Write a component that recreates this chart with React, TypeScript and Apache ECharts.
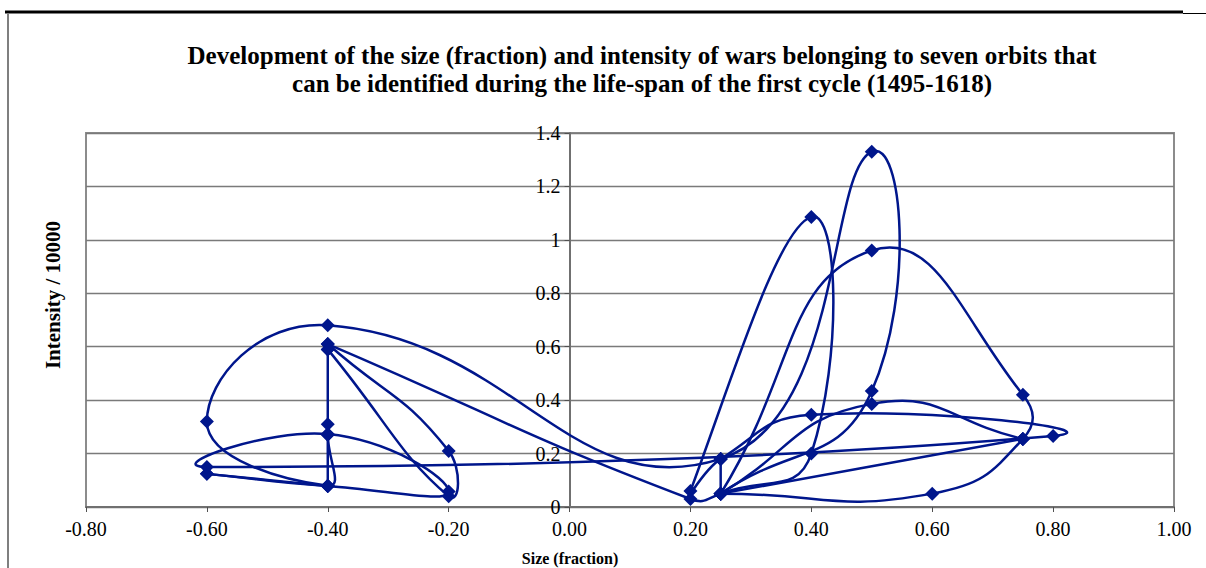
import React, { useEffect, useRef } from 'react';
import * as echarts from 'echarts';

// Sequence of wars (size fraction, intensity / 10000) in plotting order
const sizeFraction = [
  -0.4, -0.4, -0.4, -0.6,
  -0.6, -0.4, -0.2, -0.4, -0.6, 0.8, 0.4, 0.25, 0.2, 0.4, 0.4, 0.25, 0.2,
  -0.4, -0.4, -0.2, -0.2, -0.4, -0.4, -0.4, -0.4, -0.4, -0.6, -0.4,
  0.25, 0.5, 0.5, 0.25, 0.25, 0.5, 0.75, 0.75, 0.6, 0.25, 0.25, 0.5, 0.75, 0.75, 0.25, 0.25, 0.25,
];
const intensity = [
  0.27, 0.079, 0.079, 0.124,
  0.124, 0.079, 0.058, 0.273, 0.15, 0.266, 0.345, 0.18, 0.06, 1.086, 0.2, 0.05, 0.03,
  0.61, 0.61, 0.21, 0.04, 0.59, 0.59, 0.31, 0.27, 0.08, 0.32, 0.68,
  0.18, 1.33, 0.434, 0.05, 0.05, 0.96, 0.42, 0.255, 0.05, 0.05, 0.05, 0.386, 0.255, 0.255, 0.05, 0.05, 0.18,
];

const xMin = -0.8;
const xMax = 1.0;
const yMin = 0;
const yMax = 1.4;
const tickStep = 0.2;

const titleLines = [
  'Development of the size (fraction) and intensity of wars belonging to seven orbits that',
  'can be identified during the life-span of the first cycle (1495-1618)',
];
const xAxisTitle = 'Size (fraction)';
const yAxisTitle = 'Intensity / 10000';

const LINE_COLOR = '#00168C';
const FONT = '"Liberation Serif", "Times New Roman", serif';

const GRID_LEFT = 86;
const GRID_TOP = 133;
const GRID_W = 1088;
const GRID_H = 374;

export default function App() {
  const ref = useRef<HTMLDivElement>(null);

  useEffect(() => {
    if (!ref.current) return;
    const chart = echarts.init(ref.current, null, { renderer: 'svg' });
    const n = sizeFraction.length;
    const points = sizeFraction.map((x, i) => [x, intensity[i]]);
    const SMOOTH = 0.5;

    const renderItem = (params: any, api: any) => {
      const i = params.dataIndex;
      if (i >= n - 1) return { type: 'group', children: [] };
      const px = (k: number) => api.coord([sizeFraction[k], intensity[k]]);
      const ctrl = (k: number) => {
        const p = px(k);
        if (k === 0 || k === n - 1) return [p, p];
        const a = px(k - 1);
        const b = px(k + 1);
        const vx = b[0] - a[0];
        const vy = b[1] - a[1];
        const d0 = Math.hypot(p[0] - a[0], p[1] - a[1]);
        const d1 = Math.hypot(b[0] - p[0], b[1] - p[1]);
        if (d0 + d1 === 0) return [p, p];
        const r = d1 / (d0 + d1);
        return [
          [p[0] - vx * SMOOTH * (1 - r), p[1] - vy * SMOOTH * (1 - r)],
          [p[0] + vx * SMOOTH * r, p[1] + vy * SMOOTH * r],
        ];
      };
      const a = px(i);
      const b = px(i + 1);
      const ca = ctrl(i)[1];
      const cb = ctrl(i + 1)[0];
      return {
        type: 'bezierCurve',
        shape: {
          x1: a[0], y1: a[1], x2: b[0], y2: b[1],
          cpx1: ca[0], cpy1: ca[1], cpx2: cb[0], cpy2: cb[1],
        },
        style: { stroke: LINE_COLOR, lineWidth: 2.5, fill: null },
      };
    };

    // y axis sits on x = 0 (offset inward from the grid's left edge)
    const yAxisOffset = -((0 - xMin) / (xMax - xMin)) * GRID_W;

    const option: any = {
      animation: false,
      backgroundColor: '#ffffff',
      grid: {
        left: GRID_LEFT, top: GRID_TOP, width: GRID_W, height: GRID_H,
        show: true, borderColor: '#8c8c8c', borderWidth: 2, backgroundColor: 'transparent',
      },
      xAxis: {
        type: 'value', min: xMin, max: xMax, interval: tickStep,
        axisLine: { show: true, onZero: false, lineStyle: { color: '#707070', width: 2 } },
        axisTick: { show: true, length: 5, lineStyle: { color: '#505050' } },
        axisLabel: {
          color: '#000', fontFamily: FONT, fontSize: 20, margin: 12,
          formatter: (v: number) => (Math.abs(v) < 1e-9 ? 0 : v).toFixed(2),
        },
        splitLine: { show: false },
      },
      yAxis: {
        type: 'value', min: yMin, max: yMax, interval: tickStep,
        offset: yAxisOffset,
        axisLine: { show: true, onZero: false, lineStyle: { color: '#707070', width: 2 } },
        axisTick: { show: true, length: 5, lineStyle: { color: '#505050' } },
        axisLabel: { color: '#000', fontFamily: FONT, fontSize: 20, margin: 9 },
        splitLine: { show: true, lineStyle: { color: '#7a7a7a', width: 1.3 } },
      },
      series: [
        {
          type: 'custom',
          coordinateSystem: 'cartesian2d',
          renderItem,
          data: points,
          encode: { x: 0, y: 1 },
          clip: true,
          z: 2,
        },
        {
          type: 'scatter',
          data: points,
          symbol: 'diamond',
          symbolSize: 14,
          itemStyle: { color: LINE_COLOR, opacity: 1 },
          z: 3,
        },
      ],
      graphic: [
        { type: 'line', shape: { x1: 5, y1: 12, x2: 1183, y2: 12 }, style: { stroke: '#000', lineWidth: 3 } },
        { type: 'line', shape: { x1: 1183, y1: 13.5, x2: 1206, y2: 13.5 }, style: { stroke: '#000', lineWidth: 1 } },
        { type: 'line', shape: { x1: 8, y1: 13, x2: 8, y2: 568 }, style: { stroke: '#7f7f7f', lineWidth: 2 } },
        {
          type: 'text', x: 642, y: 55,
          style: { text: titleLines[0], font: `bold 25px ${FONT}`, fill: '#000', textAlign: 'center', textVerticalAlign: 'middle' },
        },
        {
          type: 'text', x: 642, y: 83,
          style: { text: titleLines[1], font: `bold 25px ${FONT}`, fill: '#000', textAlign: 'center', textVerticalAlign: 'middle' },
        },
        {
          type: 'text', x: 53, y: 295, rotation: Math.PI / 2,
          style: { text: yAxisTitle, font: `bold 21px ${FONT}`, fill: '#000', textAlign: 'center', textVerticalAlign: 'middle' },
        },
        {
          type: 'text', x: 570, y: 558,
          style: { text: xAxisTitle, font: `bold 16px ${FONT}`, fill: '#000', textAlign: 'center', textVerticalAlign: 'middle' },
        },
      ],
    };

    chart.setOption(option);
    return () => chart.dispose();
  }, []);

  return (
    <div
      ref={ref}
      style={{ position: 'fixed', left: 0, top: 0, width: 1206, height: 568, background: '#fff' }}
    />
  );
}
